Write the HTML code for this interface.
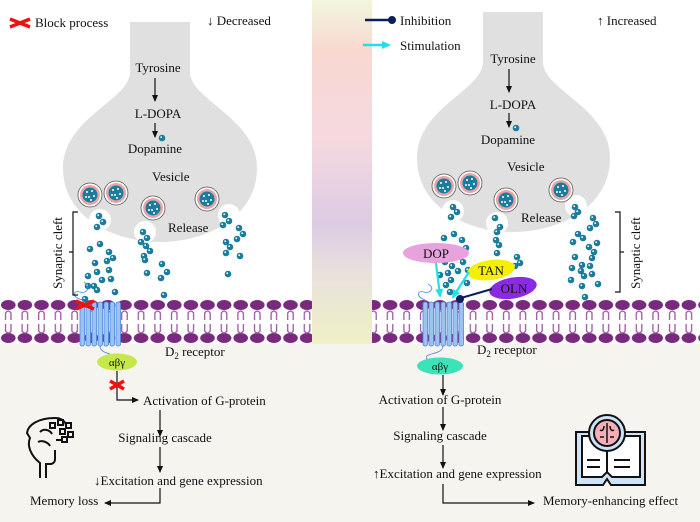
<!DOCTYPE html>
<html><head><meta charset="utf-8"><style>
html,body{margin:0;padding:0;background:#fff}
svg{display:block}
text{font-family:"Liberation Serif",serif;fill:#111}
</style></head><body>
<svg width="700" height="522" viewBox="0 0 700 522" xmlns="http://www.w3.org/2000/svg">
<defs>
<linearGradient id="mid" x1="0" y1="0" x2="0" y2="1">
<stop offset="0" stop-color="#f1f6dc"/><stop offset="0.15" stop-color="#f8d8d0"/><stop offset="0.4" stop-color="#f6d9df"/><stop offset="0.65" stop-color="#dccbe3"/><stop offset="0.8" stop-color="#e9e2dc"/><stop offset="1" stop-color="#eef0c6"/>
</linearGradient>
<pattern id="mem" x="0" y="298" width="16.6" height="48" patternUnits="userSpaceOnUse">
<ellipse cx="8.3" cy="7" rx="7.3" ry="5" fill="#7a2a7e"/>
<ellipse cx="8.3" cy="40" rx="7.3" ry="5" fill="#7a2a7e"/>
<path d="M5.5 22 V15 Q8.3 11 11 15 V22" fill="none" stroke="#9b5aa0" stroke-width="1.3"/>
<path d="M5.5 26 V33 Q8.3 37 11 33 V26" fill="none" stroke="#9b5aa0" stroke-width="1.3"/>
</pattern>
<g id="d"><circle r="3.3" fill="#1b7c9c"/><circle cx="-0.8" cy="-0.8" r="0.9" fill="#fff"/></g>
<g id="v"><circle r="12" fill="#fff" stroke="#555" stroke-width="0.8"/><circle r="10" fill="#e8a5a8"/><circle r="7.5" fill="#1b7c9c"/>
<circle cx="-3" cy="-3" r="1" fill="#fff"/><circle cx="2" cy="-4" r="1" fill="#fff"/><circle cx="4" cy="1" r="1" fill="#fff"/><circle cx="-1" cy="2" r="1" fill="#fff"/><circle cx="-4" cy="2" r="1" fill="#fff"/><circle cx="1" cy="5" r="1" fill="#fff"/></g>
<g id="rec" fill="#9cc3f0" stroke="#4a88e0" stroke-width="0.8">
<rect x="0" y="0" width="4.5" height="44" rx="2"/><rect x="6" y="0" width="4.5" height="44" rx="2"/><rect x="12" y="0" width="4.5" height="44" rx="2"/><rect x="18" y="0" width="4.5" height="44" rx="2"/><rect x="24" y="0" width="4.5" height="44" rx="2"/><rect x="30" y="0" width="4.5" height="44" rx="2"/><rect x="36" y="0" width="4.5" height="44" rx="2"/>
</g>
<marker id="ah" markerWidth="8" markerHeight="8" refX="6" refY="3" orient="auto" markerUnits="userSpaceOnUse"><path d="M0,0 L7,3 L0,6 Z" fill="#111"/></marker>
<marker id="ahc" markerWidth="10" markerHeight="10" refX="7" refY="4" orient="auto" markerUnits="userSpaceOnUse"><path d="M0,0 L9,4 L0,8 Z" fill="#22e0e8"/></marker>
</defs>

<rect x="0" y="344" width="700" height="178" fill="#f5f4ef"/>
<rect x="312" y="0" width="60" height="344" fill="url(#mid)"/>
<rect x="0" y="298" width="312" height="48" fill="url(#mem)"/>
<rect x="372" y="298" width="328" height="48" fill="url(#mem)"/>

<!-- left neuron -->
<path d="M130,22 L190,22 L190,72 C190,100 257,118 257,168 C257,218 205,242 160,242 C115,242 63,218 63,168 C63,118 130,100 130,72 Z" fill="#e0e0e0"/>
<circle cx="100" cy="220" r="11" fill="#fff"/><circle cx="145" cy="232" r="11" fill="#fff"/><circle cx="229" cy="215" r="11" fill="#fff"/>
<use href="#v" x="90" y="195"/><use href="#v" x="116" y="193"/><use href="#v" x="153" y="208"/><use href="#v" x="207" y="199"/>
<!-- right neuron -->
<path d="M483,12 L543,12 L543,62 C543,90 610,108 610,158 C610,208 558,232 513,232 C468,232 417,208 417,158 C417,108 483,90 483,62 Z" fill="#e0e0e0"/>
<circle cx="453" cy="211" r="11" fill="#fff"/><circle cx="497" cy="223" r="11" fill="#fff"/><circle cx="576" cy="206" r="11" fill="#fff"/>
<use href="#v" x="444" y="186"/><use href="#v" x="470" y="183"/><use href="#v" x="506" y="200"/><use href="#v" x="561" y="190"/>

<!-- dots left -->
<g>
<use href="#d" x="99" y="216"/><use href="#d" x="103" y="222"/><use href="#d" x="97" y="227"/><use href="#d" x="100" y="244"/><use href="#d" x="90" y="249"/><use href="#d" x="109" y="252"/><use href="#d" x="113" y="258"/><use href="#d" x="95" y="263"/><use href="#d" x="107" y="261"/><use href="#d" x="97" y="272"/><use href="#d" x="109" y="270"/><use href="#d" x="88" y="276"/><use href="#d" x="102" y="280"/><use href="#d" x="94" y="286"/><use href="#d" x="111" y="279"/><use href="#d" x="88" y="286"/><use href="#d" x="97" y="290"/><use href="#d" x="115" y="292"/><use href="#d" x="85" y="299"/>
<use href="#d" x="143" y="232"/><use href="#d" x="147" y="238"/><use href="#d" x="141" y="242"/><use href="#d" x="146" y="246"/><use href="#d" x="150" y="251"/><use href="#d" x="144" y="256"/><use href="#d" x="145" y="260"/><use href="#d" x="162" y="264"/><use href="#d" x="167" y="272"/><use href="#d" x="147" y="273"/><use href="#d" x="161" y="278"/><use href="#d" x="164" y="295"/>
<use href="#d" x="225" y="215"/><use href="#d" x="229" y="221"/><use href="#d" x="223" y="225"/><use href="#d" x="239" y="228"/><use href="#d" x="243" y="234"/><use href="#d" x="237" y="239"/><use href="#d" x="226" y="242"/><use href="#d" x="230" y="247"/><use href="#d" x="226" y="253"/><use href="#d" x="240" y="256"/><use href="#d" x="228" y="274"/>
</g>
<!-- dots right -->
<g>
<use href="#d" x="453" y="207"/><use href="#d" x="457" y="212"/><use href="#d" x="451" y="217"/><use href="#d" x="444" y="238"/><use href="#d" x="454" y="234"/><use href="#d" x="462" y="240"/><use href="#d" x="466" y="248"/><use href="#d" x="445" y="262"/><use href="#d" x="452" y="266"/><use href="#d" x="463" y="262"/><use href="#d" x="468" y="270"/><use href="#d" x="448" y="273"/><use href="#d" x="458" y="271"/><use href="#d" x="440" y="275"/><use href="#d" x="451" y="280"/><use href="#d" x="446" y="285"/><use href="#d" x="450" y="292"/><use href="#d" x="467" y="283"/>
<use href="#d" x="495" y="218"/><use href="#d" x="500" y="227"/><use href="#d" x="497" y="232"/><use href="#d" x="496" y="240"/><use href="#d" x="499" y="245"/><use href="#d" x="497" y="253"/><use href="#d" x="517" y="257"/><use href="#d" x="520" y="263"/><use href="#d" x="515" y="266"/>
<use href="#d" x="575" y="207"/><use href="#d" x="578" y="212"/><use href="#d" x="574" y="216"/><use href="#d" x="593" y="218"/><use href="#d" x="596" y="224"/><use href="#d" x="590" y="228"/><use href="#d" x="578" y="234"/><use href="#d" x="583" y="238"/><use href="#d" x="573" y="242"/><use href="#d" x="589" y="247"/><use href="#d" x="597" y="243"/><use href="#d" x="594" y="252"/><use href="#d" x="575" y="257"/><use href="#d" x="592" y="258"/><use href="#d" x="582" y="265"/><use href="#d" x="590" y="266"/><use href="#d" x="572" y="268"/><use href="#d" x="581" y="271"/><use href="#d" x="584" y="276"/><use href="#d" x="592" y="274"/><use href="#d" x="571" y="280"/><use href="#d" x="582" y="286"/><use href="#d" x="598" y="284"/><use href="#d" x="585" y="297"/>
</g>

<!-- receptors -->
<path d="M82,300 C70,296 74,290 80,292 C86,294 92,288 84,282" fill="none" stroke="#4a88e0" stroke-width="0.8"/>
<use href="#rec" x="80" y="302"/>
<path d="M100,346 C100,356 120,352 118,362" fill="none" stroke="#4a88e0" stroke-width="0.8"/>
<use href="#rec" x="423" y="302"/>
<path d="M425,300 C415,296 418,290 424,292 C430,294 436,288 428,284" fill="none" stroke="#4a88e0" stroke-width="0.8"/>
<path d="M443,346 C443,356 420,352 428,360" fill="none" stroke="#4a88e0" stroke-width="0.8"/>

<!-- left legend -->
<path d="M10,19 L30,27 M10,27 L30,19" stroke="#f01010" stroke-width="3.5"/>
<text x="35" y="27" font-size="13">Block process</text>
<text x="207" y="25" font-size="13">↓ Decreased</text>

<text x="158" y="72" font-size="13" text-anchor="middle">Tyrosine</text>
<line x1="155" y1="78" x2="155" y2="101" stroke="#111" stroke-width="1.2" marker-end="url(#ah)"/>
<text x="158" y="118" font-size="13" text-anchor="middle">L-DOPA</text>
<line x1="155" y1="123" x2="155" y2="137" stroke="#111" stroke-width="1.2" marker-end="url(#ah)"/>
<use href="#d" x="162" y="138"/>
<text x="155" y="153" font-size="13" text-anchor="middle">Dopamine</text>
<text x="152" y="181" font-size="13">Vesicle</text>
<text x="168" y="232" font-size="13">Release</text>
<path d="M78,212 H73 V295 H78 M73,252 H69" fill="none" stroke="#111" stroke-width="1.2"/>
<text x="0" y="0" font-size="13" transform="translate(62,253) rotate(-90)" text-anchor="middle">Synaptic cleft</text>
<path d="M76,301 L94,309 M76,309 L94,301" stroke="#f01010" stroke-width="3.5"/>
<text x="165" y="356" font-size="13">D<tspan font-size="9" dy="3">2</tspan><tspan dy="-3"> receptor</tspan></text>
<ellipse cx="117" cy="362" rx="20" ry="8.5" fill="#c6e84a"/>
<text x="117" y="366" font-size="11" text-anchor="middle">αβγ</text>
<path d="M117,371 V400 H138" fill="none" stroke="#111" stroke-width="1.2" marker-end="url(#ah)"/>
<path d="M110,381 L124,389 M110,389 L124,381" stroke="#f01010" stroke-width="3.5"/>
<text x="143" y="405" font-size="13">Activation of G-protein</text>
<line x1="160" y1="410" x2="160" y2="436" stroke="#111" stroke-width="1.2" marker-end="url(#ah)"/>
<text x="165" y="442" font-size="13" text-anchor="middle">Signaling cascade</text>
<line x1="160" y1="447" x2="160" y2="472" stroke="#111" stroke-width="1.2" marker-end="url(#ah)"/>
<text x="94" y="485" font-size="13">↓Excitation and gene expression</text>
<path d="M160,488 V503 H105" fill="none" stroke="#111" stroke-width="1.2" marker-end="url(#ah)"/>
<text x="30" y="505" font-size="13">Memory loss</text>
<!-- head icon -->
<g fill="none" stroke="#111" stroke-width="2">
<path d="M40,478 V463 C30,455 27,445 30,438 L27,433 C28,425 38,418 55,418 C62,418 66,422 66,426 M55,450 V459 C55,462 53,464 50,464 H46 V478"/>
<path d="M40,432 C44,428 50,430 52,434 M38,442 C42,440 48,442 50,446 M56,440 L62,440"/>
<rect x="50" y="423" width="5" height="5"/><rect x="58" y="420" width="5" height="5"/><rect x="66" y="423" width="5" height="5"/><rect x="60" y="429" width="5" height="5"/><rect x="68" y="432" width="5" height="5"/><rect x="62" y="437" width="5" height="5"/>
</g>

<!-- right legend -->
<line x1="365" y1="20" x2="391" y2="20" stroke="#0c1e5c" stroke-width="2.5"/><circle cx="392" cy="20" r="4" fill="#0c1e5c"/>
<text x="400" y="25" font-size="13">Inhibition</text>
<line x1="363" y1="45" x2="389" y2="45" stroke="#22e0e8" stroke-width="2.5" marker-end="url(#ahc)"/>
<text x="400" y="50" font-size="13">Stimulation</text>
<text x="597" y="25" font-size="13">↑ Increased</text>

<text x="513" y="63" font-size="13" text-anchor="middle">Tyrosine</text>
<line x1="509" y1="69" x2="509" y2="92" stroke="#111" stroke-width="1.2" marker-end="url(#ah)"/>
<text x="513" y="109" font-size="13" text-anchor="middle">L-DOPA</text>
<line x1="509" y1="113" x2="509" y2="127" stroke="#111" stroke-width="1.2" marker-end="url(#ah)"/>
<use href="#d" x="516" y="128"/>
<text x="508" y="144" font-size="13" text-anchor="middle">Dopamine</text>
<text x="507" y="171" font-size="13">Vesicle</text>
<text x="521" y="222" font-size="13">Release</text>
<path d="M615,212 H620 V292 H615 M620,252 H624" fill="none" stroke="#111" stroke-width="1.2"/>
<text x="0" y="0" font-size="13" transform="translate(640,253) rotate(-90)" text-anchor="middle">Synaptic cleft</text>

<ellipse cx="436" cy="253" rx="33" ry="10" fill="#e8a2dc"/>
<text x="436" y="258" font-size="13" text-anchor="middle">DOP</text>
<ellipse cx="491" cy="270" rx="24" ry="10" fill="#f5f000" transform="rotate(-8 491 270)"/>
<text x="491" y="275" font-size="13" text-anchor="middle">TAN</text>
<ellipse cx="513" cy="288" rx="24" ry="10.5" fill="#8a2be2" transform="rotate(-10 513 288)"/>
<text x="514" y="293" font-size="13" text-anchor="middle" fill="#111">OLN</text>
<line x1="436" y1="263" x2="440" y2="296" stroke="#22e0e8" stroke-width="2.2" marker-end="url(#ahc)"/>
<line x1="469" y1="272" x2="453" y2="297" stroke="#22e0e8" stroke-width="2.2" marker-end="url(#ahc)"/>
<line x1="492" y1="289" x2="461" y2="298" stroke="#0c1e5c" stroke-width="2"/><circle cx="460" cy="299" r="4" fill="#0c1e5c"/>

<text x="477" y="354" font-size="13">D<tspan font-size="9" dy="3">2</tspan><tspan dy="-3"> receptor</tspan></text>
<ellipse cx="440" cy="366" rx="23" ry="8.5" fill="#3de3b8"/>
<text x="440" y="370" font-size="11" text-anchor="middle">αβγ</text>
<line x1="443" y1="375" x2="443" y2="395" stroke="#111" stroke-width="1.2" marker-end="url(#ah)"/>
<text x="440" y="404" font-size="13" text-anchor="middle">Activation of G-protein</text>
<line x1="443" y1="407" x2="443" y2="430" stroke="#111" stroke-width="1.2" marker-end="url(#ah)"/>
<text x="440" y="440" font-size="13" text-anchor="middle">Signaling cascade</text>
<line x1="443" y1="445" x2="443" y2="468" stroke="#111" stroke-width="1.2" marker-end="url(#ah)"/>
<text x="373" y="478" font-size="13">↑Excitation and gene expression</text>
<path d="M443,484 V503 H534" fill="none" stroke="#111" stroke-width="1.2" marker-end="url(#ah)"/>
<text x="543" y="505" font-size="13">Memory-enhancing effect</text>
<!-- book icon -->
<g stroke="#111" stroke-width="2">
<path d="M576,432 H645 V485 H611 L607,479 L603,485 H576 Z" fill="#cde3f7"/>
<path d="M582,436 H640 V477 H612 L607,472 L602,477 H582 Z" fill="#fff"/>
<line x1="607" y1="450" x2="607" y2="472"/>
<line x1="587" y1="460" x2="600" y2="460"/><line x1="614" y1="460" x2="630" y2="460"/>
<line x1="587" y1="467" x2="600" y2="467"/><line x1="614" y1="467" x2="630" y2="467"/>
<circle cx="607" cy="433" r="18" fill="#cde3f7"/>
<circle cx="607" cy="433" r="13" fill="#f4b0b8"/>
<path d="M607,423 V443 M600,430 C603,432 604,428 604,426 M614,430 C611,432 610,428 610,426 M600,437 H604 M610,437 H614" fill="none" stroke-width="1.5"/>
</g>
</svg>
</body></html>
